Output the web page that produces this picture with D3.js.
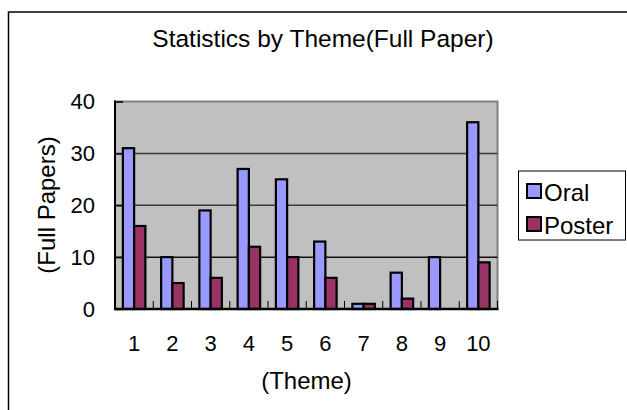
<!DOCTYPE html>
<html>
<head>
<meta charset="utf-8">
<script src="https://cdn.jsdelivr.net/npm/d3@7"></script>
<style>
  body { margin: 0; background: #fff; }
  text { font-family: 'Liberation Sans', Arial, sans-serif; fill: #000; }
</style>
</head>
<body>
<svg width="627" height="410"></svg>
<script>
(function (d3) {
  'use strict'

  const themes = ['1', '2', '3', '4', '5', '6', '7', '8', '9', '10']
  const seriesNames = ['Oral', 'Poster']
  const oral = [31, 10, 19, 27, 25, 13, 1, 7, 10, 36]
  const poster = [16, 5, 6, 12, 10, 6, 1, 2, 0, 9]
  const yTicks = [0, 10, 20, 30, 40]

  const colors = { Oral: '#9999ff', Poster: '#993366' }

  const rows = themes.map(function (t, i) {
    return { theme: t, Oral: oral[i], Poster: poster[i] }
  })

  const svg = d3.select('svg')

  // outer chart frame, runs off the right and bottom edge like the original
  svg.append('rect').
    attr('x', 8.5).attr('y', 12).
    attr('width', 640).attr('height', 420).
    attr('fill', '#fff').
    attr('stroke', '#000').attr('stroke-width', 1.5)

  const left = 115
  const right = 497.5
  const top = 101.5
  const bottom = 309

  const x0 = d3.scaleBand().domain(themes).range([left, right]).padding(0)
  const x1 = d3.scaleBand().domain(seriesNames).range([0, x0.bandwidth()]).
    paddingInner(0).paddingOuter(0.7)
  const y = d3.scaleLinear().domain([0, 40]).range([bottom, top])

  // plot background
  svg.append('rect').
    attr('x', left).attr('y', top).
    attr('width', right - left).attr('height', bottom - top).
    attr('fill', '#c0c0c0').
    attr('stroke', '#808080').attr('stroke-width', 2)

  // gridlines
  svg.append('g').
    selectAll('line').
    data(yTicks.filter(function (d) { return d > 0 && d < 40 })).
    enter().
    append('line').
    attr('x1', left).attr('x2', right).
    attr('y1', function (d) { return y(d) }).
    attr('y2', function (d) { return y(d) }).
    attr('stroke', function (d) { return d === 10 ? '#111' : '#3a3a3a' }).
    attr('stroke-width', 1.5)

  // bars
  svg.append('g').
    selectAll('g').
    data(rows).
    enter().
    append('g').
    attr('transform', function (d) { return 'translate(' + x0(d.theme) + ',0)' }).
    selectAll('rect').
    data(function (d) {
      return seriesNames.map(function (s) { return { key: s, value: d[s] } })
    }).
    enter().
    append('rect').
    attr('x', function (d) { return x1(d.key) }).
    attr('y', function (d) { return y(d.value) }).
    attr('width', x1.bandwidth()).
    attr('height', function (d) { return bottom - y(d.value) }).
    attr('fill', function (d) { return colors[d.key] }).
    attr('stroke', '#000').attr('stroke-width', 2.2)

  // y axis, ticks point inward
  const yAxis = svg.append('g').
    attr('transform', 'translate(' + left + ',0)').
    call(d3.axisRight(y).tickValues(yTicks).tickSize(8).tickFormat(''))
  yAxis.select('.domain').remove()
  yAxis.selectAll('line').attr('stroke', '#000').attr('stroke-width', 1.5)
  svg.append('line').
    attr('x1', left).attr('x2', left).attr('y1', top - 1).attr('y2', bottom).
    attr('stroke', '#000').attr('stroke-width', 2)

  svg.append('g').
    selectAll('text').
    data(yTicks).
    enter().
    append('text').
    attr('x', 95).
    attr('y', function (d) { return y(d) }).
    attr('dy', '0.36em').
    attr('text-anchor', 'end').
    attr('font-size', 22).
    text(function (d) { return d })

  // x axis: small ticks between categories, pointing up
  svg.append('g').
    selectAll('line').
    data(themes).
    enter().
    append('line').
    attr('x1', function (d) { return x0(d) + x0.step() }).
    attr('x2', function (d) { return x0(d) + x0.step() }).
    attr('y1', bottom - 8).attr('y2', bottom).
    attr('stroke', '#000').attr('stroke-width', 1)
  svg.append('line').
    attr('x1', left - 1).attr('x2', right + 1).attr('y1', bottom).attr('y2', bottom).
    attr('stroke', '#000').attr('stroke-width', 2.5)

  svg.append('g').
    selectAll('text').
    data(themes).
    enter().
    append('text').
    attr('x', function (d) { return x0(d) + x0.bandwidth() / 2 }).
    attr('y', 343.5).
    attr('dy', '0.36em').
    attr('text-anchor', 'middle').
    attr('font-size', 22).
    text(function (d) { return d })

  // titles
  svg.append('text').
    attr('x', 323).attr('y', 38.5).attr('dy', '0.36em').
    attr('text-anchor', 'middle').attr('font-size', 24.5).
    text('Statistics by Theme(Full Paper)')

  svg.append('text').
    attr('x', 306.5).attr('y', 380).attr('dy', '0.36em').
    attr('text-anchor', 'middle').attr('font-size', 24).
    text('(Theme)')

  svg.append('text').
    attr('transform', 'translate(46,205) rotate(-90)').
    attr('dy', '0.36em').
    attr('text-anchor', 'middle').attr('font-size', 24).
    text('(Full Papers)')

  // legend
  const legend = svg.append('g').attr('class', 'legend')
  legend.append('rect').
    attr('x', 518.5).attr('y', 171).
    attr('width', 107).attr('height', 69).
    attr('fill', '#fff').attr('stroke', '#000').attr('stroke-width', 1)

  const item = legend.selectAll('g').
    data(seriesNames).
    enter().
    append('g').
    attr('transform', function (d, i) { return 'translate(527,' + (184 + i * 33) + ')' })
  item.append('rect').
    attr('width', 14).attr('height', 14).
    attr('fill', function (d) { return colors[d] }).
    attr('stroke', '#000').attr('stroke-width', 2)
  item.append('text').
    attr('x', 17).attr('y', 8).attr('dy', '0.36em').
    attr('font-size', 24).
    text(function (d) { return d })
}(d3))
</script>
</body>
</html>
